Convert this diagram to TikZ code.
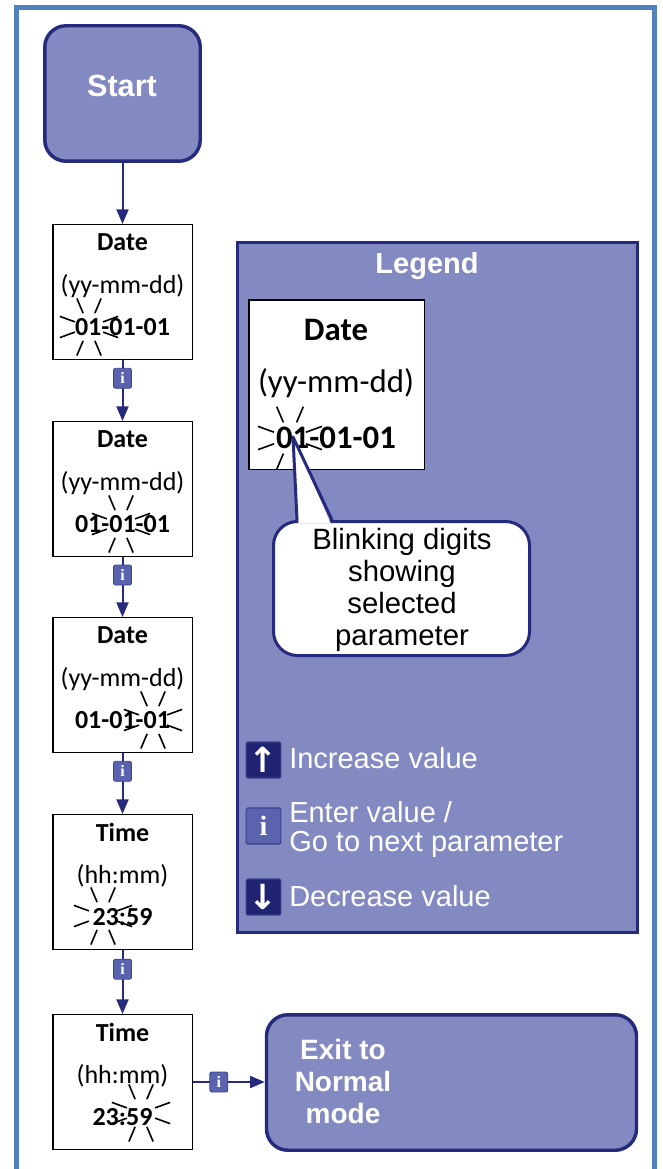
\documentclass[tikz,border=0pt]{standalone}
\usepackage{fontspec}
\setmainfont{Liberation Sans}
\newfontfamily\boxfont{Carlito}
\newfontfamily\glyphfont{DejaVu Sans}
\newfontfamily\keyfont{Liberation Serif}
\usetikzlibrary{arrows.meta}

\begin{document}
\begin{tikzpicture}[x=0.75pt,y=-0.75pt,
  frameline/.style={draw=framecol,line width=3.75pt},
  termbox/.style={rectangle,rounded corners=16pt,draw=navy,line width=2.6pt,fill=lavender,inner sep=0},
  termtext/.style={text=white,inner sep=0,align=center},
  stepbox/.style={rectangle,draw=black,line width=1.1pt,fill=white,minimum width=104.6pt,minimum height=100.9pt,inner sep=0},
  steptext/.style={inner sep=0,font=\boxfont\fontsize{19.5}{23}\selectfont},
  legtext/.style={inner sep=0,font=\boxfont\fontsize{24.6}{28}\selectfont},
  flow/.style={draw=navy,line width=1.5pt,-{Triangle[length=11pt,width=9pt]}},
  infokey/.style={rectangle,rounded corners=1.5pt,fill=keyblue,draw=keyedge,line width=0.6pt,minimum width=13.5pt,minimum height=15pt,inner sep=0,text=white,font=\keyfont\bfseries\fontsize{12}{12}\selectfont},
  bigkey/.style={rectangle,rounded corners=1pt,draw=keyedge,line width=0.8pt,minimum width=26pt,minimum height=27pt,inner sep=0,text=white},
  itemtext/.style={anchor=west,inner sep=0,text=white,align=left,font=\fontsize{21.75}{21.75}\selectfont},
  ray/.style={draw=black,line width=1.2pt}]
\definecolor{framecol}{HTML}{4F81BD}
\definecolor{lavender}{HTML}{8389C1}
\definecolor{navy}{HTML}{262A7D}
\definecolor{keyblue}{HTML}{5A63AE}
\definecolor{keyedge}{HTML}{3B4290}
\definecolor{keydark}{HTML}{1F2371}
\useasboundingbox (0,0) rectangle (662,1169);
\draw[frameline] (16.5,1175) -- (16.5,7.5) -- (654.5,7.5) -- (654.5,1175);

% start and the steps
\node[termbox,minimum width=116.6pt,minimum height=101.6pt] (start) at (122.5,93.5) {};
\node[termtext,font=\bfseries\fontsize{23}{26}\selectfont] (starttext) at (122,86) {Start};
\foreach \nm/\cy/\ttl/\fmt/\val in {b1/292/Date/(yy-mm-dd)/01-01-01,b2/489/Date/(yy-mm-dd)/01-01-01,b3/685/Date/(yy-mm-dd)/01-01-01,b4/882/Time/(hh:mm)/23:59,b5/1082/Time/(hh:mm)/23:59}
{ \node[stepbox] (\nm) at (122.5,\cy) {};
  \node[steptext] (\nm-title) at (122.5,\cy-50) {\bfseries\ttl};
  \node[steptext] (\nm-unit) at (122.5,\cy-6) {\fmt};
  \node[steptext] (\nm-value) at (122.5,\cy+35) {\bfseries\val};}
\foreach \bx/\by in {89/327,121/524,153/720,103/916,141/1113}
{ \begin{scope}[shift={(\bx,\by)}]
    \foreach \a in {20,67,113,160,200,247,293,340} \draw[ray] (\a:15) -- (\a:31);
  \end{scope}}

\node[termbox,minimum width=277.5pt,minimum height=101.6pt] (exit) at (451.5,1082.5) {};
\node[termtext,font=\bfseries\fontsize{21}{24}\selectfont] (exittext) at (343,1081) {Exit to\\Normal\\mode};

% connectors
\draw[flow] (start) -- (b1);
\foreach \from/\to in {b1/b2,b2/b3,b3/b4,b4/b5}
  \draw[flow] (\from) -- node[infokey,pos=0.3] {i} (\to);
\draw[flow] (b5.east) -- node[infokey,pos=0.36] {i} (exit.west |- b5.east);

% legend
\node[rectangle,draw=navy,line width=2.2pt,fill=lavender,minimum width=300.4pt,minimum height=517.9pt] (legend) at (437.5,587.5) {};
\node[termtext,font=\bfseries\fontsize{21.75}{24}\selectfont] (legendtitle) at (427,266) {Legend};
\node[stepbox,minimum width=131.6pt,minimum height=127.1pt] (sample) at (336.5,384.5) {};
\node[legtext] (sample-title) at (336,330) {\bfseries Date};
\node[legtext] (sample-unit) at (336,383) {(yy-mm-dd)};
\node[legtext] (sample-value) at (336,438) {\bfseries 01-01-01};
\begin{scope}[shift={(290,438)}]
  \foreach \a in {20,67,113,160,200,247,293,340} \draw[ray] (\a:17) -- (\a:34);
\end{scope}
\coordinate (tip) at (293,437);
\node[rectangle,rounded corners=18pt,draw=navy,line width=2.25pt,fill=white,minimum width=192pt,minimum height=100.5pt] (callout) at (401.5,588.5) {};
\fill[white] (298.5,523) -- (tip) -- (330.5,523) -- cycle;
\draw[navy,line width=2.25pt,line join=round] (297,520) -- (tip) -- (332,520);
\node[inner sep=0,align=center,font=\fontsize{22}{24}\selectfont] (callouttext) at (402,590) {Blinking digits\\showing\\selected\\parameter};

\node[bigkey,fill=keydark,font=\glyphfont\bfseries\fontsize{26}{26}\selectfont] (upkey) at (263.5,760) {↑};
\node[bigkey,fill=keyblue,font=\keyfont\bfseries\fontsize{21}{21}\selectfont] (enterkey) at (263.5,826) {i};
\node[bigkey,fill=keydark,font=\glyphfont\bfseries\fontsize{26}{26}\selectfont] (downkey) at (263.5,897) {↓};
\node[itemtext] (uptext) at (289,758) {Increase value};
\node[itemtext] (entertext) at (289,829.5) {Enter value /\\Go to next parameter};
\node[itemtext] (downtext) at (289,896) {Decrease value};
\end{tikzpicture}
\end{document}
